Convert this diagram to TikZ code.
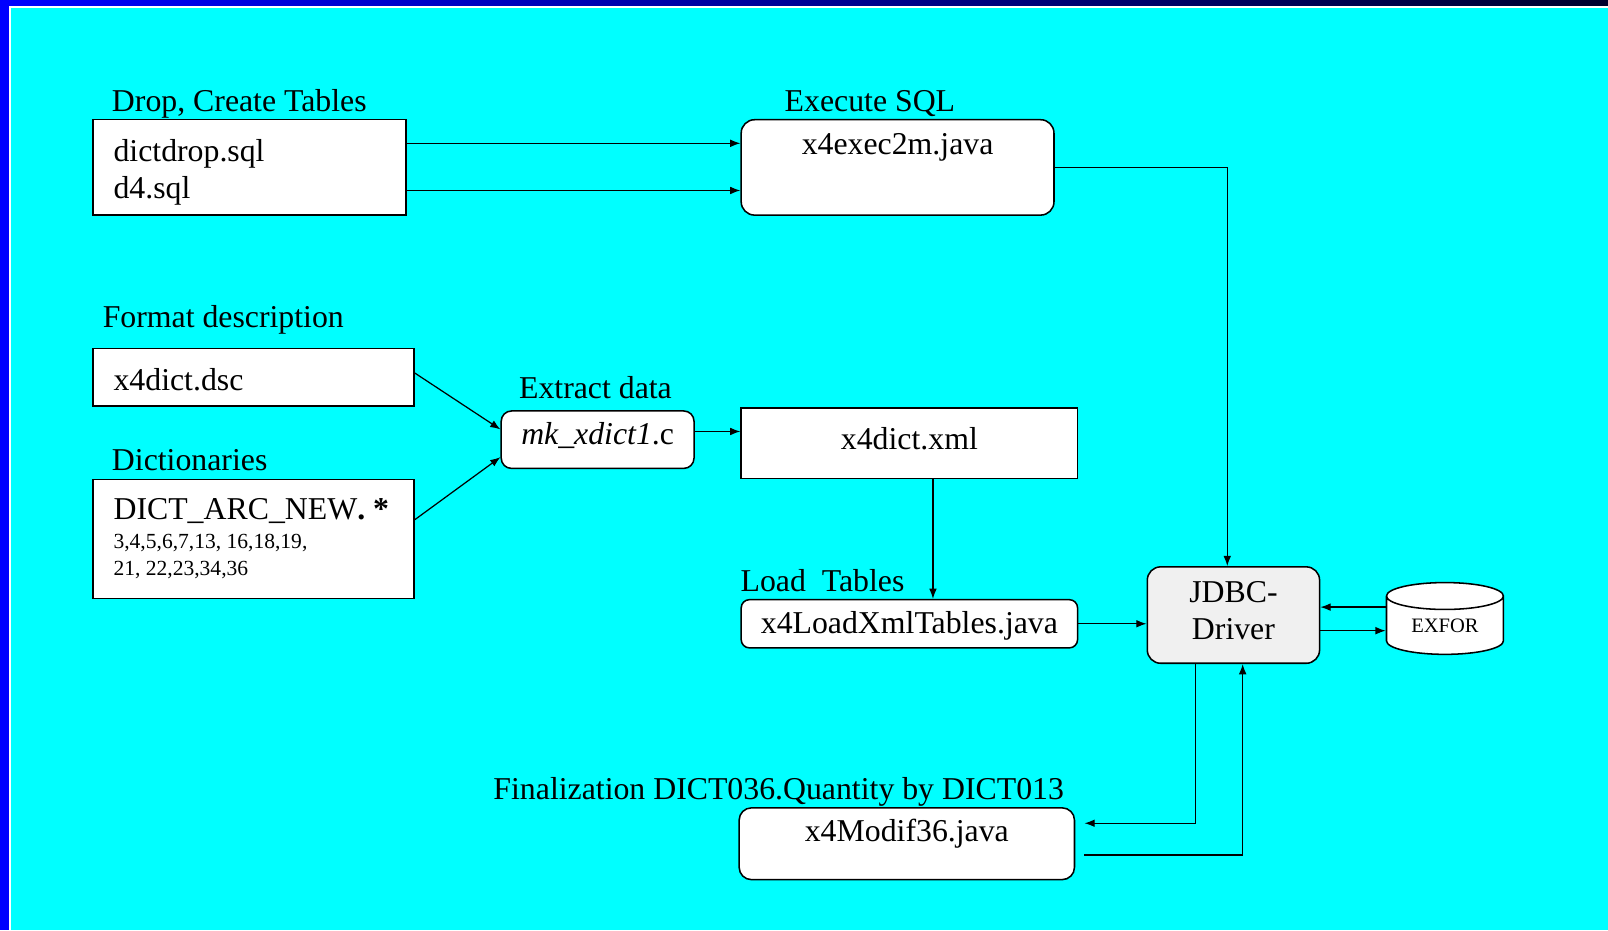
\documentclass[tikz,border=0pt]{standalone}
\usepackage{fontspec}
\setmainfont{Liberation Serif}
\usetikzlibrary{shapes.geometric,arrows.meta,calc}

\definecolor{slidecyan}{RGB}{0,255,255}
\definecolor{slideblue}{RGB}{0,0,255}
\definecolor{slidenavy}{RGB}{0,0,45}
\definecolor{drivergray}{RGB}{240,240,240}

\newcommand{\boxfont}{\fontsize{31}{36}\selectfont}
\newcommand{\numfont}{\fontsize{21}{26}\selectfont}
\newcommand{\exforfont}{\fontsize{20}{24}\selectfont}
\frenchspacing

\begin{document}
\begin{tikzpicture}[
    x=1pt, y=-1pt,
    >={Latex[length=10pt,width=7.5pt]},
    box/.style={rectangle,draw=black,fill=white,line width=1.5pt,
                inner xsep=0pt,inner ysep=0pt,anchor=north west},
    rbox/.style={box,rounded corners=13pt},
    leftbox/.style={box,align=flush left,inner xsep=20pt},
    lbl/.style={anchor=base west,inner sep=0pt},
    conn/.style={->,line width=1.2pt}
]

    \tikzstyle{every node}=[font=\boxfont];

    % slide background
    \fill[slideblue] (0,0) rectangle (1568,907);
    \shade[left color=slideblue,right color=slidenavy] (0,0) rectangle (1568,6);
    \fill[white] (9,6) rectangle (1568,907);
    \fill[slidecyan] (10.5,7.5) rectangle (1568,907);
    \useasboundingbox (0,0) rectangle (1568,907);

    % boxes
    \node[leftbox, minimum width=305pt, text width=265pt,
          text height=41pt, text depth=52pt] (drop) at (90,116)
          {dictdrop.sql\\d4.sql};
    \node[rbox, minimum width=305pt, text height=34pt, text depth=59pt]
          (exec) at (722,116) {x4exec2m.java};
    \node[leftbox, minimum width=313pt, text width=273pt,
          text height=41pt, text depth=15pt] (dsc) at (90,339) {x4dict.dsc};
    \node[leftbox, minimum width=313pt, text width=273pt,
          text height=39pt, text depth=77pt] (dict) at (90,467)
          {DICT\_ARC\_NEW\textbf{. *}\\[2pt]
           \numfont 3,4,5,6,7,13, 16,18,19,\\[-10pt]
           \numfont 21, 22,23,34,36};
    \node[rbox, rounded corners=10pt, minimum width=188pt,
          text height=33pt, text depth=23pt] (mk) at (488,400)
          {\textit{mk\_xdict1}.c};
    \node[box, minimum width=328pt, text height=41pt, text depth=28pt]
          (xml) at (722,397) {x4dict.xml};
    \node[rbox, rounded corners=8pt, minimum width=328pt,
          text height=33pt, text depth=14pt] (load) at (722,584)
          {x4LoadXmlTables.java};
    \node[rbox, fill=drivergray, align=center, text width=168pt,
          text height=35pt, text depth=59pt] (jdbc) at (1118,552)
          {JDBC-\\Driver};
    \node[cylinder, draw, fill=white, line width=1.5pt, shape border rotate=90,
          shape aspect=0.4, minimum width=114pt, minimum height=70pt,
          inner sep=0pt, font=\exforfont] (exfor) at (1409,610) {EXFOR};
    \node[rbox, rounded corners=12pt, minimum width=327pt,
          text height=33pt, text depth=37pt] (mod) at (720,787)
          {x4Modif36.java};

    % titles
    \node[lbl] (dropL) at (109,109) {Drop, Create Tables};
    \node[lbl] (execL) at (765,109) {Execute SQL};
    \node[lbl] (dscL)  at (100,319) {Format description};
    \node[lbl] (dictL) at (109,459) {Dictionaries};
    \node[lbl] (mkL)   at (506,389) {Extract data};
    \node[lbl] (loadL) at (722,577) {Load~ Tables};
    \node[lbl] (modL)  at (481,780) {Finalization DICT036.Quantity by DICT013};

    % connectors
    \draw[conn] ([yshift=23.5pt]drop.east) -- ([yshift=23.5pt]exec.west);
    \draw[conn] ([yshift=-22.5pt]drop.east) -- ([yshift=-22.5pt]exec.west);
    \draw[conn] (exec.east) -| ([xshift=-6pt]jdbc.north);
    \draw[conn] ([yshift=4pt]dsc.east) -- ([yshift=10pt]mk.west);
    \draw[conn] ([yshift=19pt]dict.east) -- ([yshift=-17pt]mk.west);
    \draw[conn] ([yshift=8pt]mk.east) -- ([yshift=8pt]mk.east -| xml.west);
    \draw[conn] ([xshift=23pt]xml.south) -- ([xshift=23pt]load.north);
    \draw[conn] (load.east) -- (load.east -| jdbc.west);
    \draw[conn] ([yshift=18pt]exfor.west) -- ([yshift=18pt]exfor.west -| jdbc.east);
    \draw[conn] ([yshift=-5pt]exfor.west -| jdbc.east) -- ([yshift=-5pt]exfor.west);
    \draw[conn] ([xshift=-37pt]jdbc.south) |- ([shift={(9pt,20pt)}]mod.east);
    \draw[conn] ([shift={(9pt,-11pt)}]mod.east) -| ([xshift=9pt]jdbc.south);

\end{tikzpicture}
\end{document}
